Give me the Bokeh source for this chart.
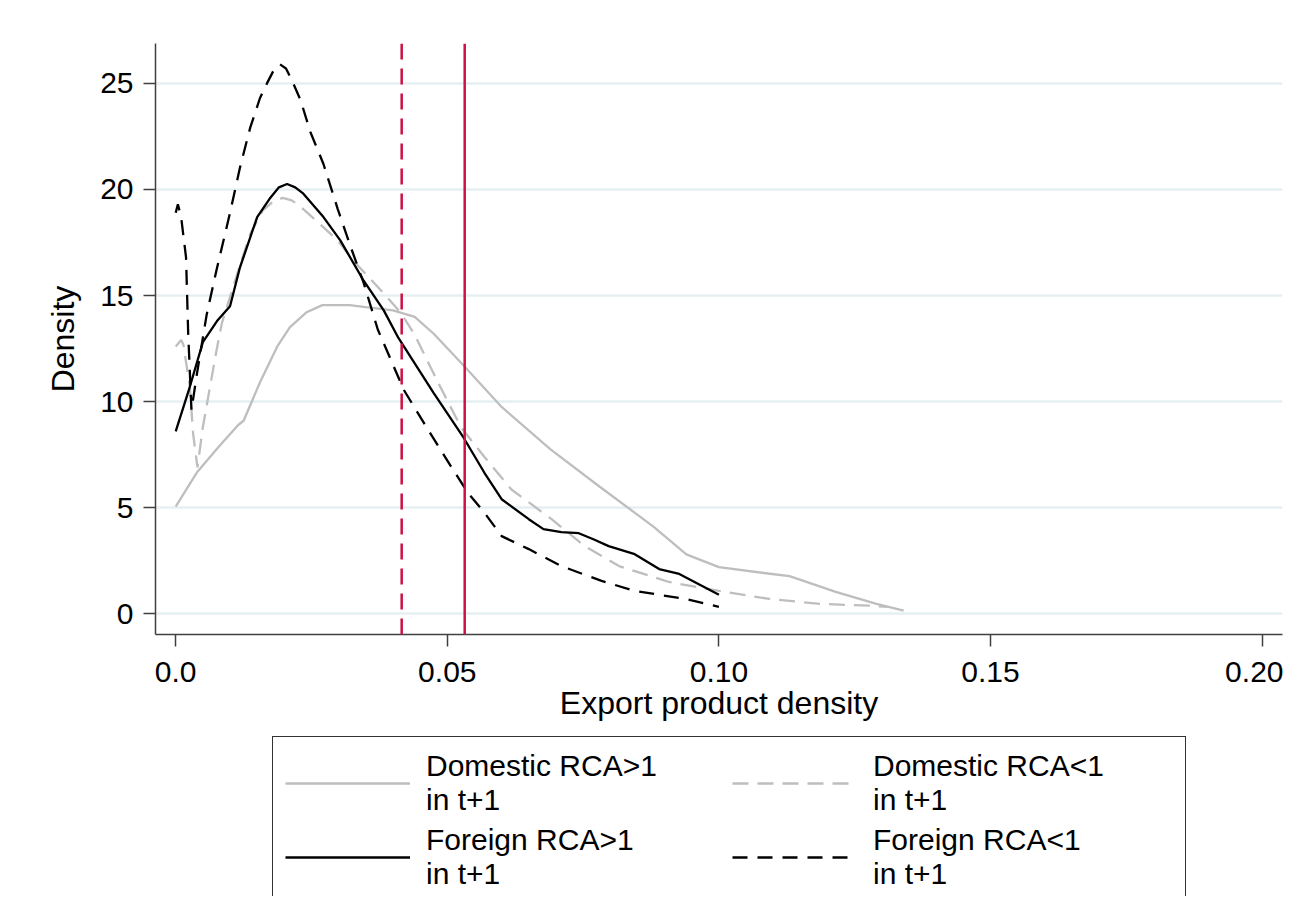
from bokeh.plotting import figure
from bokeh.models import Range1d, Span, Legend, LegendItem
from bokeh.layouts import column
from bokeh.embed import file_html
from bokeh.resources import INLINE

# ---------------- data ----------------
x_ticks = [0.0, 0.05, 0.10, 0.15, 0.20]
x_tick_labels = ["0.0", "0.05", "0.10", "0.15", "0.20"]
y_ticks = [0, 5, 10, 15, 20, 25]

series_names = ["Domestic RCA>1\nin t+1", "Domestic RCA<1\nin t+1",
                "Foreign RCA>1\nin t+1", "Foreign RCA<1\nin t+1"]

dom_gt_x = [0.000, 0.004, 0.008, 0.0115, 0.0125, 0.0155, 0.0187, 0.021, 0.024, 0.027,
            0.032, 0.035, 0.040, 0.044, 0.0475, 0.053, 0.060, 0.069, 0.078, 0.088,
            0.094, 0.100, 0.109, 0.113, 0.1215, 0.129, 0.134]
dom_gt_y = [5.05, 6.7, 7.9, 8.9, 9.1, 10.9, 12.6, 13.5, 14.2, 14.55,
            14.55, 14.45, 14.3, 14.0, 13.2, 11.7, 9.75, 7.75, 6.0, 4.1,
            2.8, 2.2, 1.9, 1.78, 1.03, 0.47, 0.15]

dom_lt_x = [0.000, 0.001, 0.0014, 0.0026, 0.0032, 0.0040, 0.0050, 0.0059, 0.0075, 0.0085,
            0.0113, 0.0137, 0.016, 0.018, 0.0197, 0.0212, 0.0225, 0.026, 0.0298, 0.0327,
            0.0383, 0.0414, 0.0439, 0.0483, 0.0525, 0.0568, 0.0618, 0.0692, 0.0753, 0.0816,
            0.0908, 0.100, 0.1093, 0.1186, 0.128, 0.131]
dom_lt_y = [12.6, 12.9, 12.7, 10.7, 8.5, 6.9, 8.8, 10.1, 12.4, 13.7,
            16.0, 17.9, 19.0, 19.45, 19.6, 19.5, 19.3, 18.5, 17.6, 16.65,
            15.1, 14.2, 13.2, 10.9, 8.8, 7.4, 5.86, 4.46, 3.19, 2.25,
            1.5, 1.08, 0.70, 0.47, 0.38, 0.33]

for_gt_x = [0.000, 0.0026, 0.005, 0.0076, 0.010, 0.0118, 0.015, 0.0174, 0.019, 0.0205,
            0.022, 0.0235, 0.0272, 0.0303, 0.0346, 0.0383, 0.041, 0.0475, 0.053, 0.0568,
            0.060, 0.065, 0.0677, 0.071, 0.0742, 0.077, 0.0797, 0.0845, 0.089, 0.0927,
            0.100]
for_gt_y = [8.6, 10.7, 12.8, 13.8, 14.5, 16.3, 18.7, 19.6, 20.1, 20.26,
            20.1, 19.8, 18.7, 17.6, 15.7, 14.3, 13.0, 10.4, 8.3, 6.66,
            5.4, 4.46, 3.99, 3.85, 3.8, 3.5, 3.19, 2.81, 2.11, 1.88,
            0.9]

for_lt_x = [0.000, 0.0004, 0.001, 0.0019, 0.0023, 0.0029, 0.0039, 0.0057, 0.0076, 0.010,
            0.0118, 0.0137, 0.0155, 0.0168, 0.018, 0.0192, 0.0203, 0.0213, 0.023, 0.0248,
            0.0272, 0.0298, 0.0322, 0.0346, 0.0372, 0.042, 0.0464, 0.0507, 0.0538, 0.0568,
            0.060, 0.065, 0.071, 0.0784, 0.0845, 0.0938, 0.100]
for_lt_y = [18.9, 19.3, 18.7, 16.8, 13.2, 9.6, 11.3, 14.1, 16.3, 18.9,
            21.0, 22.9, 24.3, 25.0, 25.6, 25.9, 25.7, 25.2, 24.2, 22.7,
            21.2, 19.1, 17.3, 15.6, 13.4, 10.55, 8.7, 6.94, 5.7, 4.78,
            3.66, 3.05, 2.25, 1.55, 1.08, 0.70, 0.33]

mean_lt = 0.0416   # dashed red reference line
mean_gt = 0.0532   # solid red reference line

# ---------------- styles ----------------
FONT = "Liberation Sans"
GRAY = "#bebebe"
RED = "#cc1144"
AXIS = "#404040"
styles = [dict(line_color=GRAY, line_width=2.3),
          dict(line_color=GRAY, line_width=2.3, line_dash="16 9"),
          dict(line_color="black", line_width=2.3),
          dict(line_color="black", line_width=2.3, line_dash="15 10")]
series = [(dom_gt_x, dom_gt_y), (dom_lt_x, dom_lt_y),
          (for_gt_x, for_gt_y), (for_lt_x, for_lt_y)]

# ---------------- main figure ----------------
p = figure(width=1283, height=735, output_backend="svg", toolbar_location=None,
           x_range=Range1d(-0.00372, 0.20375), y_range=Range1d(-0.975, 26.88),
           min_border_left=155, min_border_right=1, min_border_top=43,
           min_border_bottom=101, background_fill_color="white",
           border_fill_color="white")
p.outline_line_color = None
p.xgrid.visible = False
p.ygrid.grid_line_color = "#e6eff1"
p.ygrid.grid_line_width = 2.5
p.ygrid.ticker = y_ticks

p.xaxis.ticker = x_ticks
p.xaxis.major_label_overrides = {t: l for t, l in zip(x_ticks, x_tick_labels)}
p.yaxis.ticker = y_ticks
p.xaxis.axis_label = "Export product density"
p.yaxis.axis_label = "Density"
for ax in (p.xaxis, p.yaxis):
    ax.axis_line_color = AXIS
    ax.axis_line_width = 1.5
    ax.major_tick_line_color = AXIS
    ax.major_tick_line_width = 1.5
    ax.major_tick_out = 12
    ax.major_tick_in = 0
    ax.minor_tick_line_color = None
    ax.major_label_text_font = FONT
    ax.major_label_text_font_size = "30px"
    ax.major_label_text_color = "black"
    ax.axis_label_text_font = FONT
    ax.axis_label_text_font_size = "32px"
    ax.axis_label_text_font_style = "normal"
    ax.axis_label_text_color = "black"
p.xaxis.major_label_standoff = 15
p.yaxis.major_label_standoff = 10
p.xaxis.axis_label_standoff = 0
p.yaxis.axis_label_standoff = 16

p.add_layout(Span(location=mean_lt, dimension="height", line_color=RED,
                  line_width=2.5, line_dash="16 9"))
p.add_layout(Span(location=mean_gt, dimension="height", line_color=RED,
                  line_width=2.5))

for (xs, ys), st in zip(series, styles):
    p.line(xs, ys, **st)

# ---------------- legend strip (keys drawn from the same series, out of view) ----------------
q = figure(width=1283, height=161, output_backend="svg", toolbar_location=None,
           x_range=Range1d(1, 2), y_range=Range1d(100, 101),
           x_axis_location=None, y_axis_location=None,
           min_border=0, background_fill_color="white", border_fill_color="white")
q.outline_line_color = None
q.grid.visible = False
key_renderers = [q.line(xs, ys, **st) for (xs, ys), st in zip(series, styles)]

items = [LegendItem(label=n, renderers=[r]) for n, r in zip(series_names, key_renderers)]
legend = Legend(items=items, location=(117, -8), orientation="horizontal", ncols=2,
                glyph_width=125, glyph_height=20, label_standoff=16, label_width=300,
                spacing=6, padding=12, margin=0,
                border_line_color="#333333", border_line_width=1.5,
                border_line_alpha=1.0,
                label_text_font=FONT, label_text_font_size="30px",
                label_text_color="black",
                label_text_line_height=1.05, background_fill_color="white",
                background_fill_alpha=1.0)
q.add_layout(legend, "center")

open("out.html", "w").write(file_html(column(p, q), INLINE))
